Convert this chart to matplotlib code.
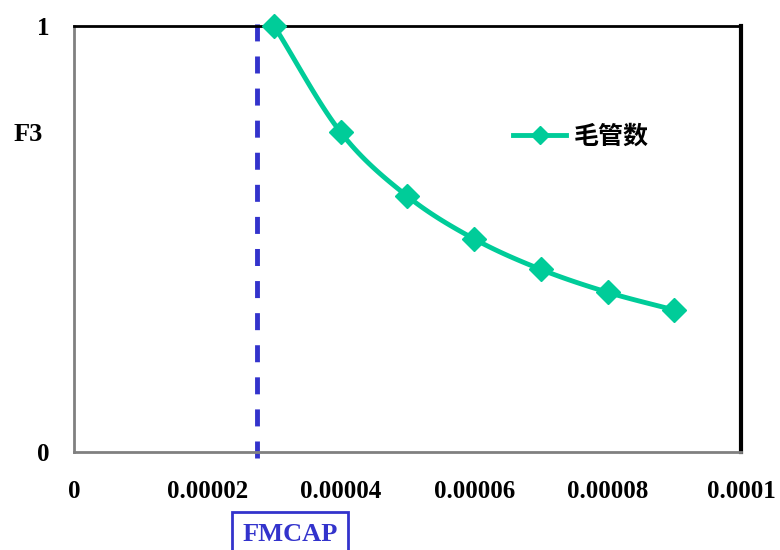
import numpy as np
import matplotlib
matplotlib.use("Agg")
import matplotlib.pyplot as plt

# Data.
FMCAPValues = [0.00003, 0.00004, 0.00005, 0.00006, 0.00007, 0.00008, 0.00009]
F3Values = [1.0, 0.75, 0.6, 0.5, 0.4286, 0.375, 0.3333]
SeriesName = "毛管数"
CutOff = 0.0000275 # Position of the dashed FMCAP line.
XTicks = [0, 0.00002, 0.00004, 0.00006, 0.00008, 0.0001]
XTickLabels = ["0", "0.00002", "0.00004", "0.00006", "0.00008", "0.0001"]
YTicks = [0, 1]
YTickLabels = ["0", "1"]

LineColour = "#00CC99"
DashColour = "#3333CC"
SerifFont = ["Liberation Serif", "DejaVu Serif"]

def smooth_curve(X, Y, Steps = 20):
	# Catmull-Rom curve through the points, like the smoothed line in a spreadsheet chart.
	X = np.asarray(X, dtype = float)
	Y = np.asarray(Y, dtype = float)
	Px = np.concatenate(([2 * X[0] - X[1]], X, [2 * X[-1] - X[-2]]))
	Py = np.concatenate(([2 * Y[0] - Y[1]], Y, [2 * Y[-1] - Y[-2]]))
	OutX, OutY = [], []
	T = np.linspace(0, 1, Steps)
	for i in range(1, len(Px) - 2):
		for P, Out in ((Px, OutX), (Py, OutY)):
			P0, P1, P2, P3 = P[i - 1], P[i], P[i + 1], P[i + 2]
			Out.extend(0.5 * ((2 * P1) + (-P0 + P2) * T + (2 * P0 - 5 * P1 + 4 * P2 - P3) * T ** 2 + (-P0 + 3 * P1 - 3 * P2 + P3) * T ** 3))
	return OutX, OutY

fig = plt.figure(figsize = (7.8, 5.5), dpi = 100)
ax = fig.add_axes([0.0949, 0.178, 0.855, 0.775])

CurveX, CurveY = smooth_curve(FMCAPValues, F3Values)
ax.plot(CurveX, CurveY, color = LineColour, linewidth = 3.5, solid_capstyle = "round", zorder = 3)
ax.plot(FMCAPValues, F3Values, linestyle = "none", marker = "D", markersize = 12, color = LineColour, zorder = 4, clip_on = False)
ax.plot([], [], color = LineColour, linewidth = 3.5, marker = "D", markersize = 12, label = SeriesName) # Legend entry.

ax.axvline(CutOff, ymin = -0.015, ymax = 1.015, color = DashColour, linewidth = 3.5, linestyle = (0, (3.5, 3.1)), clip_on = False, zorder = 2)

ax.set_xlim(0, 0.0001)
ax.set_ylim(0, 1)
ax.set_xticks(XTicks)
ax.set_xticklabels(XTickLabels, fontfamily = SerifFont, fontweight = "bold", fontsize = 18)
ax.set_yticks(YTicks)
ax.set_yticklabels(YTickLabels, fontfamily = SerifFont, fontweight = "bold", fontsize = 18)
ax.tick_params(length = 0, pad = 0)
ax.tick_params(axis = "x", pad = 20)
ax.tick_params(axis = "y", pad = 18)

for Side in ["left", "bottom"]:
	ax.spines[Side].set_color("#808080")
	ax.spines[Side].set_linewidth(2)
ax.spines["top"].set_color("black")
ax.spines["top"].set_linewidth(2)
ax.spines["right"].set_color("black")
ax.spines["right"].set_linewidth(3)

fig.text(0.036, 0.755, "F3", fontfamily = SerifFont, fontweight = "bold", fontsize = 19, ha = "center", va = "center")
fig.text(0.372, 0.029, "FMCAP", fontfamily = SerifFont, fontweight = "bold", fontsize = 19, color = DashColour, ha = "center", va = "center",
	bbox = dict(boxstyle = "square,pad=0.4", facecolor = "white", edgecolor = DashColour, linewidth = 2))

Legend = ax.legend(loc = "center left", bbox_to_anchor = (0.625, 0.74), frameon = False, handlelength = 2.1, handletextpad = 0.3,
	markerscale = 0.75, prop = {"family": ["Noto Sans CJK SC", "DejaVu Sans"], "weight": "bold", "size": 18})

fig.savefig("out.png", dpi = 100)
